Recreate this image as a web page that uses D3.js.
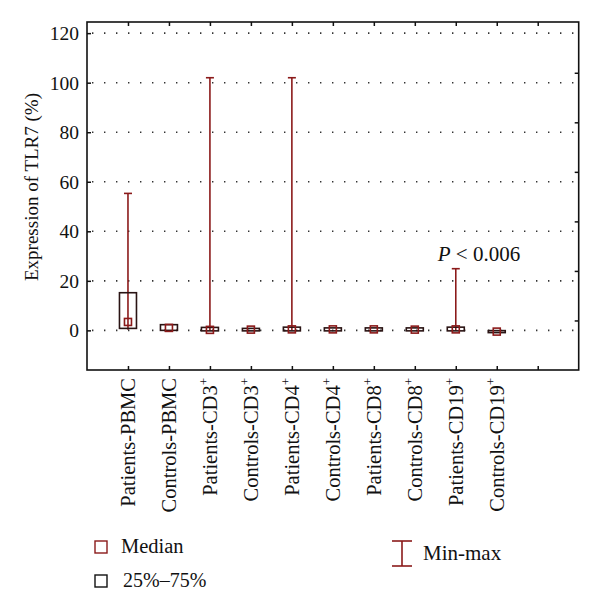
<!DOCTYPE html>
<html>
<head>
<meta charset="UTF-8">
<script src="https://d3js.org/d3.v7.min.js"></script>
<style>
  body { margin: 0; background: #fff; }
  svg { display: block; font-family: 'Liberation Serif', 'DejaVu Serif', serif; }
  .frame { fill: none; stroke: #111; stroke-width: 1.6px; }
  .grid { stroke: #333; stroke-width: 1.6px; stroke-dasharray: 1.4,10.6; }
  .tick-label { font-size: 19.5px; fill: #111; }
</style>
</head>
<body>
<svg id="chart" width="600" height="614"></svg>
<script>
// groups and values (% TLR7 expression)
const categories = ["Patients-PBMC", "Controls-PBMC", "Patients-CD3", "Controls-CD3", "Patients-CD4",
                    "Controls-CD4", "Patients-CD8", "Controls-CD8", "Patients-CD19", "Controls-CD19"];
const superscripts = ["", "", "+", "+", "+", "+", "+", "+", "+", "+"];
const mins    = [0.3, 0,   0,   0,    0,   0,   0,   0,   0,   -0.4];
const maxs    = [55.3, 2.5, 102, 1,   102, 1.2, 1.2, 1.2, 24.9, 0];
const q1s     = [0.8, 0,  -0.2, -0.2, -0.2, -0.2, -0.2, -0.2, -0.2, -0.3];
const q3s     = [15.2, 2.3, 1.2, 0.8, 1.3, 1.0, 1.0, 1.0, 1.3, -0.1];
const medians = [3.4, 1.0, 0.2, 0.3, 0.4, 0.4, 0.4, 0.3, 0.4, -0.5];
const yTicks = [0, 20, 40, 60, 80, 100, 120];
const rightTicks = [4, 24, 44, 64, 84, 104];

const dark = "#8b1a1a";
const svg = d3.select("#chart");

const plotL = 87, plotR = 578.7, plotT = 22, plotB = 370;
const x = d3.scaleLinear().domain([0, 12]).range([plotL, plotR]);
const y = d3.scaleLinear().domain([-16, 124.5]).range([plotB, plotT]);
const xTicks = d3.range(1, 12);

// dotted grid
svg.append("g").selectAll("line").data(yTicks).join("line")
  .attr("class", "grid")
  .attr("x1", plotL + 5).attr("x2", plotR)
  .attr("y1", d => y(d)).attr("y2", d => y(d));

// axes with inward ticks
svg.append("g").attr("transform", `translate(${plotL},0)`)
  .call(d3.axisRight(y).tickValues(yTicks).tickSize(4).tickFormat(""))
  .call(g => g.select(".domain").remove());
svg.append("g").attr("transform", `translate(${plotR},0)`)
  .call(d3.axisLeft(y).tickValues(rightTicks).tickSize(4).tickFormat(""))
  .call(g => g.select(".domain").remove());
svg.append("g").attr("transform", `translate(0,${plotB})`)
  .call(d3.axisTop(x).tickValues(xTicks).tickSize(4).tickFormat(""))
  .call(g => g.select(".domain").remove());
svg.append("g").attr("transform", `translate(0,${plotT})`)
  .call(d3.axisBottom(x).tickValues(xTicks).tickSize(4).tickFormat(""))
  .call(g => g.select(".domain").remove());
svg.selectAll(".tick line").attr("stroke", "#111").attr("stroke-width", 1.5);

svg.append("rect").attr("class", "frame")
  .attr("x", plotL).attr("y", plotT).attr("width", plotR - plotL).attr("height", plotB - plotT);

// y tick labels
svg.append("g").selectAll("text").data(yTicks).join("text")
  .attr("class", "tick-label")
  .attr("x", plotL - 8).attr("y", d => y(d)).attr("dy", "0.35em")
  .attr("text-anchor", "end")
  .text(d => d);

// y title
svg.append("text")
  .attr("transform", "translate(38,187) rotate(-90)")
  .attr("text-anchor", "middle")
  .style("font-size", "19px").attr("fill", "#111")
  .text("Expression of TLR7 (%)");

// x category labels, rotated
const xl = svg.append("g").selectAll("text").data(categories).join("text")
  .attr("transform", (d, i) => `translate(${x(i + 1) + 7},${plotB + 8}) rotate(-90)`)
  .attr("text-anchor", "end")
  .style("font-size", "20.5px").attr("fill", "#111");
xl.append("tspan").text(d => d);
xl.append("tspan")
  .attr("dy", "-0.65em")
  .style("font-size", "13px")
  .text((d, i) => superscripts[i]);

// whiskers, boxes, medians
const bw = 17, cap = 8, med = 7;
const g = svg.append("g");
categories.forEach((c, i) => {
  const cx = x(i + 1);
  if (maxs[i] - mins[i] > 3) {
    g.append("line").attr("x1", cx).attr("x2", cx)
      .attr("y1", y(mins[i])).attr("y2", y(maxs[i]))
      .attr("stroke", dark).attr("stroke-width", 1.6);
    g.append("line").attr("x1", cx - cap / 2).attr("x2", cx + cap / 2)
      .attr("y1", y(maxs[i])).attr("y2", y(maxs[i]))
      .attr("stroke", dark).attr("stroke-width", 1.6);
  }
  g.append("rect")
    .attr("x", cx - bw / 2).attr("width", bw)
    .attr("y", y(q3s[i])).attr("height", Math.max(2, y(q1s[i]) - y(q3s[i])))
    .attr("fill", "none").attr("stroke", "#2a1414").attr("stroke-width", 1.6);
  g.append("rect")
    .attr("x", cx - med / 2).attr("width", med)
    .attr("y", y(medians[i]) - med / 2).attr("height", med)
    .attr("fill", "none").attr("stroke", dark).attr("stroke-width", 1.6);
});

// significance annotation
const pt = svg.append("text")
  .attr("x", x(9) - 18).attr("y", y(28))
  .style("font-size", "21px").attr("fill", "#111");
pt.append("tspan").style("font-style", "italic").text("P");
pt.append("tspan").text(" < 0.006");

// legend
svg.append("rect").attr("x", 95).attr("y", 541).attr("width", 12).attr("height", 12)
  .attr("fill", "none").attr("stroke", dark).attr("stroke-width", 1.4);
svg.append("text").attr("x", 121).attr("y", 553).style("font-size", "20.5px").attr("fill", "#111").text("Median");
svg.append("rect").attr("x", 95).attr("y", 575).attr("width", 12).attr("height", 12)
  .attr("fill", "none").attr("stroke", "#111").attr("stroke-width", 1.4);
svg.append("text").attr("x", 123).attr("y", 587).style("font-size", "20px").attr("fill", "#111").text("25%–75%");
const mm = svg.append("g").attr("stroke", dark).attr("stroke-width", 1.6);
mm.append("line").attr("x1", 402).attr("x2", 402).attr("y1", 541).attr("y2", 566);
mm.append("line").attr("x1", 392).attr("x2", 412).attr("y1", 541).attr("y2", 541);
mm.append("line").attr("x1", 392).attr("x2", 412).attr("y1", 566).attr("y2", 566);
svg.append("text").attr("x", 423).attr("y", 560).style("font-size", "21px").attr("fill", "#111").text("Min-max");
</script>
</body>
</html>
